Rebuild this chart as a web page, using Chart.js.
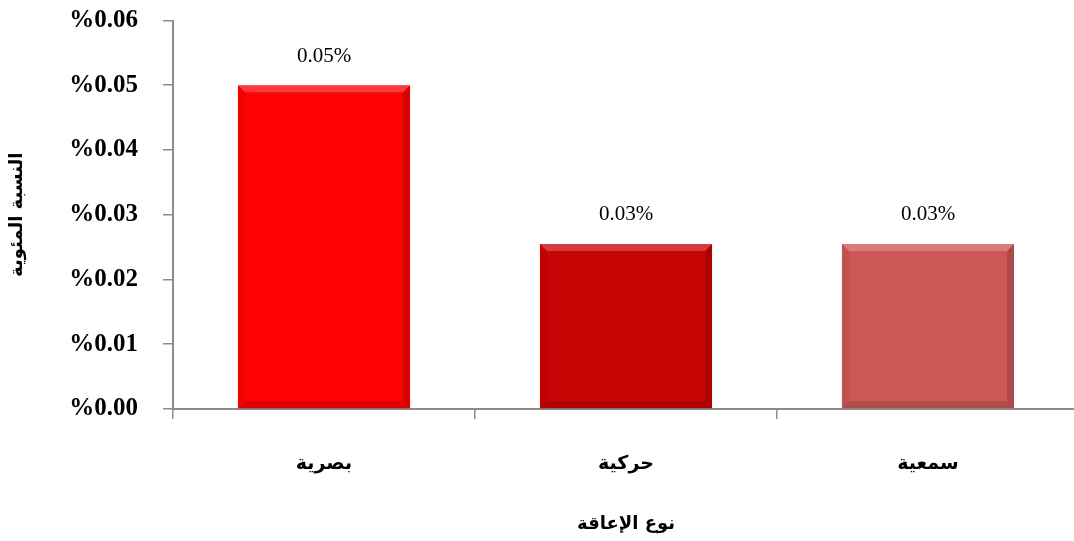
<!DOCTYPE html>
<html lang="ar">
<head>
<meta charset="utf-8">
<script src="https://cdn.jsdelivr.net/npm/chart.js@4.4.1/dist/chart.umd.min.js"></script>
<style>
  html, body { margin: 0; padding: 0; background: #fff; overflow: hidden; }
  #wrap { width: 1080px; height: 541px; position: relative; }
</style>
</head>
<body>
<div id="wrap"><canvas id="grafico"></canvas></div>
<script>
// datos
const categorias = ['بصرية', 'حركية', 'سمعية'];
const valores = [0.05, 0.0255, 0.0255];
const etiquetas = ['0.05%', '0.03%', '0.03%'];
const colores = ['#fe0303', '#c90404', '#cd5656'];
const tituloY = 'النسبة المئوية';
const tituloX = 'نوع الإعاقة';

const gris = '#8c8c8c';
const fuenteArabe = "'DejaVu Sans', Arial, sans-serif";
const fuenteNum = "'Liberation Serif', 'Times New Roman', serif";

// efecto biselado sobre cada barra + etiquetas de valor
const biselPlugin = {
    id: 'bisel',
    afterDatasetsDraw(chart) {
        const ctx = chart.ctx;
        const meta = chart.getDatasetMeta(0);
        meta.data.forEach((bar, i) => {
            const w = bar.width;
            const l = bar.x - w / 2, r = bar.x + w / 2;
            const t = bar.y, b = bar.base;
            const d = 7;
            ctx.save();
            // arriba, mas claro
            ctx.fillStyle = 'rgba(255,255,255,0.22)';
            ctx.beginPath();
            ctx.moveTo(l, t); ctx.lineTo(r, t); ctx.lineTo(r - d, t + d); ctx.lineTo(l + d, t + d);
            ctx.closePath(); ctx.fill();
            // izquierda
            ctx.fillStyle = 'rgba(0,0,0,0.05)';
            ctx.beginPath();
            ctx.moveTo(l, t); ctx.lineTo(l + d, t + d); ctx.lineTo(l + d, b - d); ctx.lineTo(l, b);
            ctx.closePath(); ctx.fill();
            // derecha
            ctx.fillStyle = 'rgba(0,0,0,0.15)';
            ctx.beginPath();
            ctx.moveTo(r, t); ctx.lineTo(r - d, t + d); ctx.lineTo(r - d, b - d); ctx.lineTo(r, b);
            ctx.closePath(); ctx.fill();
            // abajo
            ctx.fillStyle = 'rgba(0,0,0,0.13)';
            ctx.beginPath();
            ctx.moveTo(l, b); ctx.lineTo(l + d, b - d); ctx.lineTo(r - d, b - d); ctx.lineTo(r, b);
            ctx.closePath(); ctx.fill();
            // etiqueta
            ctx.fillStyle = '#000';
            ctx.font = '21px ' + fuenteNum;
            ctx.textAlign = 'center';
            ctx.textBaseline = 'middle';
            ctx.fillText(etiquetas[i], bar.x, t - 29);
            ctx.restore();
        });
    }
};

new Chart(document.getElementById('grafico'), {
    type: 'bar',
    data: {
        labels: categorias,
        datasets: [{
            data: valores,
            backgroundColor: colores,
            borderWidth: 0,
            barPercentage: 0.57,
            categoryPercentage: 1
        }]
    },
    options: {
        responsive: true,
        maintainAspectRatio: false,
        animation: false,
        layout: { padding: { top: 20.5, right: 1, left: 0, bottom: 0 } },
        plugins: {
            legend: { display: false },
            tooltip: { enabled: false }
        },
        scales: {
            y: {
                min: 0,
                max: 0.06,
                afterFit(scale) {
                    scale.width = 173;
                    // sin relleno extra arriba/abajo, lo da layout.padding
                    scale.paddingTop = 0;
                    scale.paddingBottom = 0;
                },
                ticks: {
                    stepSize: 0.01,
                    padding: 25,
                    color: '#000',
                    font: { family: fuenteNum, size: 25, weight: 'bold' },
                    callback: v => '%' + v.toFixed(2)
                },
                grid: { drawOnChartArea: false, drawTicks: true, tickLength: 10, color: gris, lineWidth: 1.5 },
                border: { display: true, color: gris, width: 2 },
                title: {
                    display: true,
                    text: tituloY,
                    color: '#000',
                    font: { family: fuenteArabe, size: 18, weight: 'bold' },
                    padding: { top: 7, bottom: 0 }
                }
            },
            x: {
                afterFit(scale) { scale.height = 132; },
                ticks: {
                    padding: 34,
                    color: '#000',
                    font: { family: fuenteArabe, size: 19, weight: 'bold' }
                },
                grid: { drawOnChartArea: false, drawTicks: true, tickLength: 10, color: gris, lineWidth: 1.5 },
                border: { display: true, color: gris, width: 2 },
                title: {
                    display: true,
                    text: tituloX,
                    color: '#000',
                    font: { family: fuenteArabe, size: 18, weight: 'bold' },
                    padding: { top: 0, bottom: 6 }
                }
            }
        }
    },
    plugins: [biselPlugin]
});
</script>
</body>
</html>
